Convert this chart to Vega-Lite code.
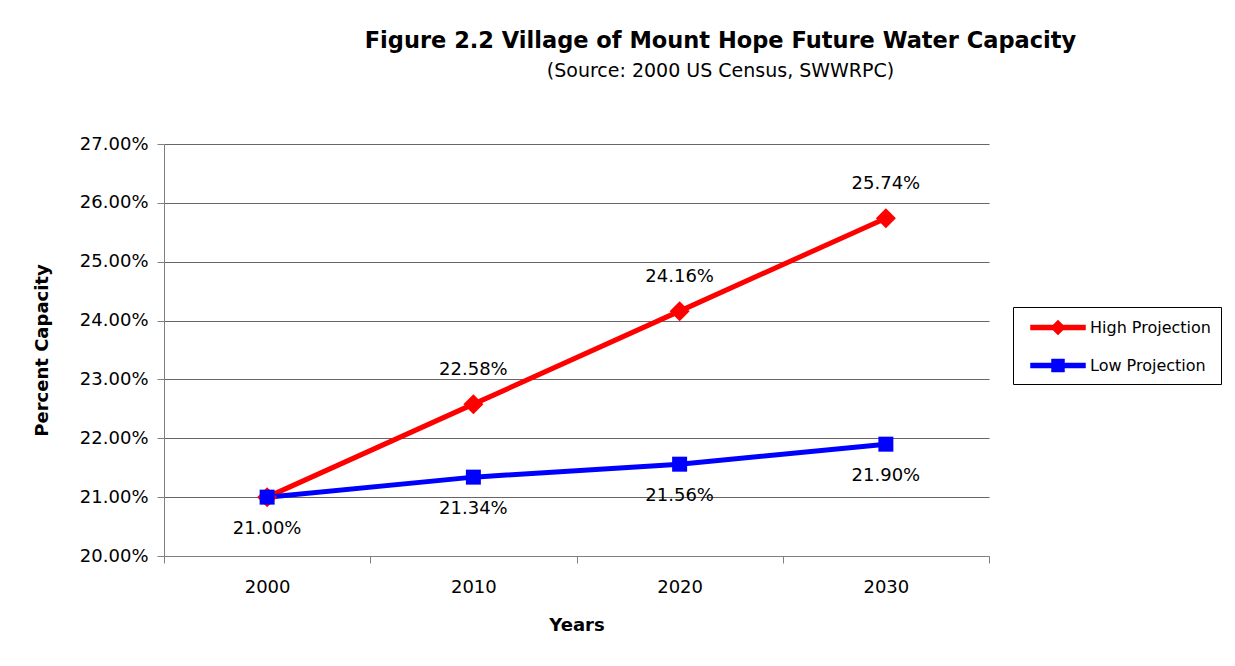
{
  "$schema": "https://vega.github.io/schema/vega-lite/v6.json",
  "autosize": {"type": "none"},
  "padding": {"left": 164, "top": 144, "right": 246, "bottom": 110},
  "width": 825,
  "height": 412,
  "background": "white",
  "title": {
    "text": "Figure 2.2 Village of Mount Hope Future Water Capacity",
    "subtitle": "(Source:  2000 US Census, SWWRPC)",
    "anchor": "middle",
    "frame": "group",
    "dx": 144,
    "offset": 54,
    "font": "DejaVu Sans",
    "fontSize": 22.5,
    "fontWeight": "bold",
    "color": "black",
    "subtitleFont": "DejaVu Sans",
    "subtitleFontSize": 19,
    "subtitleColor": "black",
    "subtitlePadding": 10
  },
  "data": {
    "values": [
      {"Year": "2000", "Series": "High Projection", "Value": 0.2100},
      {"Year": "2010", "Series": "High Projection", "Value": 0.2258},
      {"Year": "2020", "Series": "High Projection", "Value": 0.2416},
      {"Year": "2030", "Series": "High Projection", "Value": 0.2574},
      {"Year": "2000", "Series": "Low Projection", "Value": 0.2100},
      {"Year": "2010", "Series": "Low Projection", "Value": 0.2134},
      {"Year": "2020", "Series": "Low Projection", "Value": 0.2156},
      {"Year": "2030", "Series": "Low Projection", "Value": 0.2190}
    ]
  },
  "encoding": {
    "x": {
      "field": "Year",
      "type": "ordinal",
      "scale": {"type": "band", "paddingInner": 0, "paddingOuter": 0},
      "axis": {
        "title": "Years",
        "labelAngle": 0,
        "tickBand": "extent",
        "tickSize": 7,
        "labelPadding": 15,
        "titlePadding": 20,
        "grid": false
      }
    },
    "y": {
      "field": "Value",
      "type": "quantitative",
      "scale": {"domain": [0.20, 0.27], "nice": false, "zero": false},
      "axis": {
        "title": "Percent Capacity",
        "format": ".2%",
        "values": [0.20, 0.21, 0.22, 0.23, 0.24, 0.25, 0.26, 0.27],
        "tickSize": 7,
        "labelPadding": 9,
        "titlePadding": 28,
        "grid": true,
        "gridColor": "#666666",
        "gridOpacity": 1,
        "gridWidth": 1
      }
    }
  },
  "layer": [
    {
      "mark": {"type": "line", "strokeWidth": 5},
      "encoding": {
        "color": {
          "field": "Series",
          "type": "nominal",
          "scale": {"domain": ["High Projection", "Low Projection"], "range": ["#ff0000", "#0000ff"]},
          "legend": {
            "title": null,
            "orient": "none",
            "legendX": 849,
            "legendY": 163,
            "padding": 10,
            "symbolSize": 400,
            "symbolOffset": 7,
            "labelOffset": 39,
            "rowPadding": 19,
            "labelFontSize": 16,
            "labelFont": "DejaVu Sans",
            "labelColor": "black",
            "strokeColor": "black",
            "fillColor": "white",
            "encode": {
              "symbols": {
                "update": {
                  "shape": {"signal": "datum.value === 'High Projection' ? 'M-1,-0.25H4.5V0.25H-1Z M1.75,-0.75L2.5,0L1.75,0.75L1,0Z' : 'M-1,-0.25H4.5V0.25H-1Z M1.1,-0.65H2.4V0.65H1.1Z'"},
                  "fill": {"signal": "datum.value === 'High Projection' ? '#ff0000' : '#0000ff'"},
                  "stroke": {"signal": "datum.value === 'High Projection' ? '#ff0000' : '#0000ff'"},
                  "strokeWidth": {"value": 0.5},
                  "opacity": {"value": 1},
                  "fillOpacity": {"value": 1}
                }
              }
            }
          }
        }
      }
    },
    {
      "transform": [{"filter": "datum.Series == 'High Projection'"}],
      "mark": {"type": "point", "filled": true, "opacity": 1, "shape": "diamond", "size": 400, "color": "#ff0000"},
      "encoding": {}
    },
    {
      "transform": [{"filter": "datum.Series == 'Low Projection'"}],
      "mark": {"type": "point", "filled": true, "opacity": 1, "shape": "square", "size": 225, "color": "#0000ff"},
      "encoding": {}
    },
    {
      "transform": [{"filter": "datum.Series == 'High Projection' && datum.Year != '2000'"}],
      "mark": {"type": "text", "dy": -34, "fontSize": 18, "font": "DejaVu Sans", "color": "black", "baseline": "middle"},
      "encoding": {
        "text": {"field": "Value", "type": "quantitative", "format": ".2%"}
      }
    },
    {
      "transform": [{"filter": "datum.Series == 'Low Projection'"}],
      "mark": {"type": "text", "dy": 32, "fontSize": 18, "font": "DejaVu Sans", "color": "black", "baseline": "middle"},
      "encoding": {
        "text": {"field": "Value", "type": "quantitative", "format": ".2%"}
      }
    }
  ],
  "config": {
    "view": {"stroke": null},
    "font": "DejaVu Sans",
    "axis": {
      "labelFont": "DejaVu Sans",
      "labelFontSize": 18,
      "labelColor": "black",
      "titleFont": "DejaVu Sans",
      "titleFontSize": 18,
      "titleFontWeight": "bold",
      "titleColor": "black",
      "domainColor": "#808080",
      "domainWidth": 1,
      "tickColor": "#808080",
      "tickWidth": 1
    }
  }
}
